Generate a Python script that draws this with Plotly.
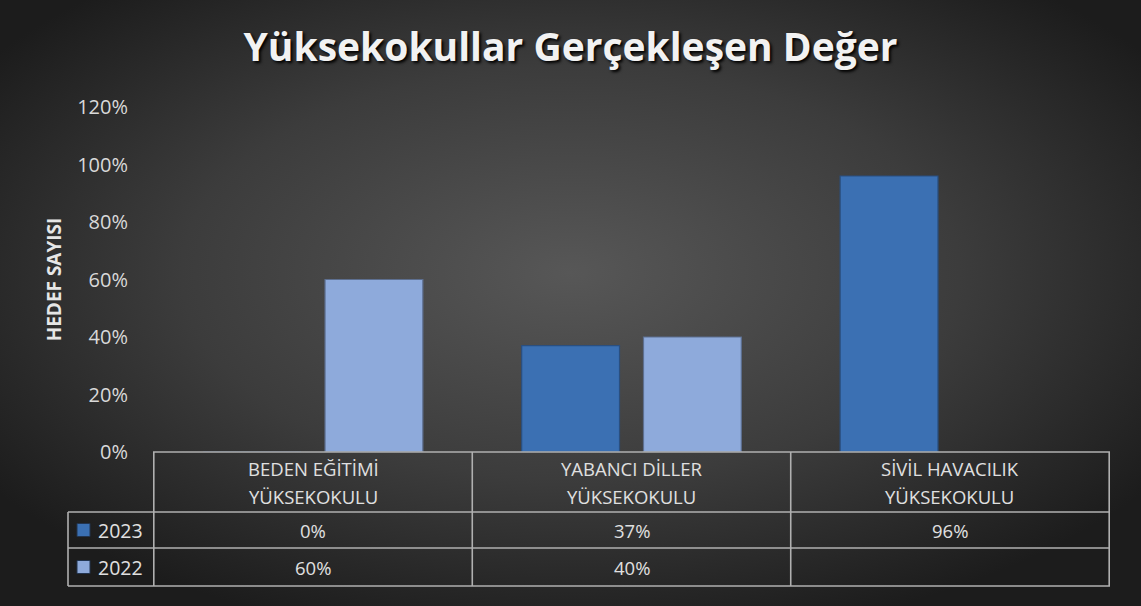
import base64
import plotly.graph_objects as go

# data
okullar = ["BEDEN EĞİTİMİ YÜKSEKOKULU", "YABANCI DİLLER YÜKSEKOKULU", "SİVİL HAVACILIK YÜKSEKOKULU"]
satir1 = ["BEDEN EĞİTİMİ", "YABANCI DİLLER", "SİVİL HAVACILIK"]
satir2 = ["YÜKSEKOKULU", "YÜKSEKOKULU", "YÜKSEKOKULU"]
y2023 = [0.0, 0.37, 0.96]
y2022 = [0.60, 0.40, None]
yil_etiket = ["2023", "2022"]
renk_2023 = "#3b70b3"
renk_2022 = "#8eaadb"

W, H = 1141, 606
ML, MR, MT, MB = 153, 31, 107, 154
pw, ph = W - ML - MR, H - MT - MB

# gradient background as inline svg
svg = f'''<svg xmlns="http://www.w3.org/2000/svg" width="{W}" height="{H}" preserveAspectRatio="none">
<defs><radialGradient id="g" cx="0.5" cy="0.45" r="0.62">
<stop offset="0" stop-color="#575757"/><stop offset="0.55" stop-color="#3c3c3c"/><stop offset="1" stop-color="#1c1c1c"/>
</radialGradient></defs><rect width="{W}" height="{H}" fill="url(#g)"/></svg>'''
bg = "data:image/svg+xml;base64," + base64.b64encode(svg.encode()).decode()

fig = go.Figure()
fig.add_trace(go.Bar(x=okullar, y=y2023, name="2023", marker=dict(color=renk_2023, line=dict(color="#2a4f80", width=1.2))))
fig.add_trace(go.Bar(x=okullar, y=y2022, name="2022", marker=dict(color=renk_2022, line=dict(color="#5d6f90", width=1.2))))

font = "Open Sans"
txt = "#e0e0e0"
linec = "#b0b0b0"


def py(pix):
    return (MT + ph - pix) / ph


def px_(pix):
    return (pix - ML) / pw


shapes = []
# table horizontal lines
for yy, x0 in [(452, 153), (512, 68), (548, 68), (586, 68)]:
    shapes.append(dict(type="line", xref="paper", yref="paper", x0=px_(x0), x1=1, y0=py(yy), y1=py(yy),
                       line=dict(color=linec, width=1.6)))
# vertical lines at category boundaries
for b in [-0.5, 0.5, 1.5, 2.5]:
    shapes.append(dict(type="line", xref="x", yref="paper", x0=b, x1=b, y0=py(452), y1=py(586),
                       line=dict(color=linec, width=1.6)))
shapes.append(dict(type="line", xref="paper", yref="paper", x0=px_(68), x1=px_(68), y0=py(512), y1=py(586),
                   line=dict(color=linec, width=1.6)))

ann = []
for i in range(len(okullar)):
    for t, yy in [(satir1[i], 468), (satir2[i], 497)]:
        ann.append(dict(x=i, xref="x", xanchor="center", y=py(yy), yref="paper", yanchor="middle", text=t,
                        showarrow=False, font=dict(family=font, size=18.5, color=txt)))


def yuzde(v):
    return "" if v is None else f"{round(v * 100)}%"


for row, vals, yy in [(0, y2023, 530), (1, y2022, 567)]:
    for i, v in enumerate(vals):
        ann.append(dict(x=i, xref="x", xanchor="center", y=py(yy), yref="paper", yanchor="middle",
                        text=yuzde(v), showarrow=False, font=dict(family=font, size=18.5, color=txt)))
    col = [renk_2023, renk_2022][row]
    # legend key
    shapes.append(dict(type="rect", xref="paper", yref="paper", x0=px_(77), x1=px_(90), y0=py(yy - 6.5),
                       y1=py(yy + 6.5), fillcolor=col, line=dict(color="#22344f", width=1)))
    ann.append(dict(x=px_(96), xref="paper", xanchor="left", y=py(yy), yref="paper", yanchor="middle",
                    text=yil_etiket[row], showarrow=False, font=dict(family=font, size=19.5, color=txt)))

fig.update_layout(
    width=W, height=H,
    margin=dict(l=ML, r=MR, t=MT, b=MB, pad=0),
    paper_bgcolor="#333333", plot_bgcolor="rgba(0,0,0,0)",
    images=[dict(source=bg, xref="paper", yref="paper", x=-ML / pw, y=1 + MT / ph,
                 sizex=W / pw, sizey=H / ph, sizing="stretch", layer="below", xanchor="left", yanchor="top")],
    title=dict(text="Yüksekokullar Gerçekleşen Değer", x=0.5, xanchor="center", y=0.922, yanchor="middle",
               font=dict(family=font, size=39, color="#f2f2f2", weight="bold", shadow="2px 2px 3px #000")),
    showlegend=False,
    barmode="group", bargap=0.235, bargroupgap=0.197,
    xaxis=dict(showticklabels=False, showgrid=False, zeroline=False, showline=False, ticks=""),
    yaxis=dict(range=[0, 1.2], tickvals=[0, 0.2, 0.4, 0.6, 0.8, 1.0, 1.2], tickformat=".0%",
               showgrid=False, zeroline=False, showline=False, ticks="", ticklabelstandoff=24,
               tickfont=dict(family=font, size=20, color="#d9d9d9"),
               title=dict(text="HEDEF SAYISI", standoff=10,
                          font=dict(family=font, size=19, color="#e6e6e6", weight="bold"))),
    shapes=shapes, annotations=ann,
)

fig.write_html("out.html", config={"displayModeBar": False}, post_script="document.body.style.margin='0';")
